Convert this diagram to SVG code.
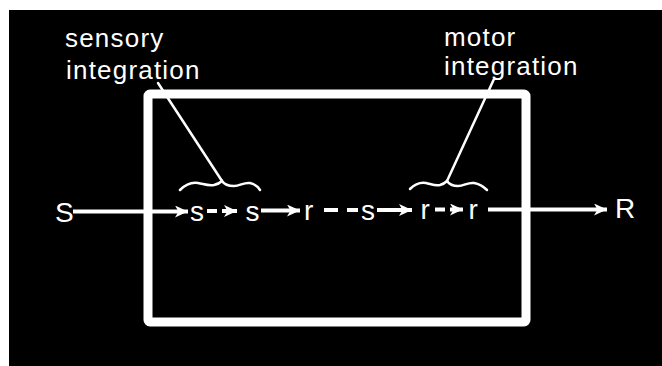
<svg xmlns="http://www.w3.org/2000/svg" width="662" height="366" viewBox="0 0 662 366">
  <style>
    .lbl { font-family: "Liberation Sans", Arial, sans-serif; font-size: 26px; fill: #fff; letter-spacing: 1.2px; }
    .sym { font-family: "Liberation Sans", Arial, sans-serif; font-size: 28px; fill: #fff; }
    .ln { stroke: #fff; stroke-width: 4; fill: none; }
    .thin { stroke: #fff; stroke-width: 2.5; fill: none; stroke-linecap: round; }
  </style>
  <defs>
    <marker id="ah" markerUnits="userSpaceOnUse" markerWidth="14" markerHeight="12" refX="13" refY="6" orient="auto">
      <path d="M0,0 L13,6 L0,12 L3.5,6 Z" fill="#fff"/>
    </marker>
  </defs>
  <rect x="0" y="0" width="662" height="366" fill="#fff"/>
  <rect x="9" y="10" width="653" height="356" fill="#000"/>

  <g id="box">
    <rect x="148" y="94" width="378" height="228" rx="2" fill="none" stroke="#fff" stroke-width="9"/>
  </g>

  <g id="sensory-label">
    <text class="lbl" x="65" y="47">sensory</text>
    <text class="lbl" x="66" y="79">integration</text>
  </g>
  <g id="motor-label">
    <text class="lbl" x="444" y="46">motor</text>
    <text class="lbl" x="444" y="75">integration</text>
  </g>

  <g id="sensory-brace">
    <path class="thin" d="M180,190 C186,184 192,182 198,183 C204,184 208,186 214,185 C218,184 220,183 222,181 C224,184 228,186 234,186 C240,186 244,182 250,183 C255,184 258,187 260,190"/>
  </g>
  <g id="motor-brace">
    <path class="thin" d="M410,189 C415,184 420,182 426,183 C431,184 435,186 440,185 C444,184 445,183 447,181 C449,184 452,186 458,186 C464,186 468,182 474,183 C480,184 484,187 487,190"/>
  </g>

  <g id="node-S"><text class="sym" x="55" y="221.5">S</text></g>
  <g id="node-s1"><text class="sym" x="190" y="221">s</text></g>
  <g id="node-s2"><text class="sym" x="245.5" y="220.5">s</text></g>
  <g id="node-r1"><text class="sym" x="304" y="220">r</text></g>
  <g id="node-s3"><text class="sym" x="361" y="219.5">s</text></g>
  <g id="node-r2"><text class="sym" x="420.5" y="219">r</text></g>
  <g id="node-r3"><text class="sym" x="468.5" y="218.5">r</text></g>
  <g id="node-R"><text class="sym" x="615" y="218">R</text></g>

  <g id="connectors">
    <path class="ln" d="M73,211.5 H188" marker-end="url(#ah)"/>
    <path class="ln" d="M207,211 H217"/>
    <path class="ln" d="M222,211 H237" marker-end="url(#ah)"/>
    <path class="ln" d="M261,210.5 H300" marker-end="url(#ah)"/>
    <path class="ln" d="M324,210 H338"/>
    <path class="ln" d="M347,210 H358"/>
    <path class="ln" d="M377,210 H412" marker-end="url(#ah)"/>
    <path class="ln" d="M435,209.5 H445"/>
    <path class="ln" d="M450,209.5 H463" marker-end="url(#ah)"/>
    <path class="ln" d="M488,209.5 H607" marker-end="url(#ah)"/>
    <path class="thin" d="M222,181 L158,83"/>
    <path class="thin" d="M447,181 L494,79"/>
  </g>
</svg>
